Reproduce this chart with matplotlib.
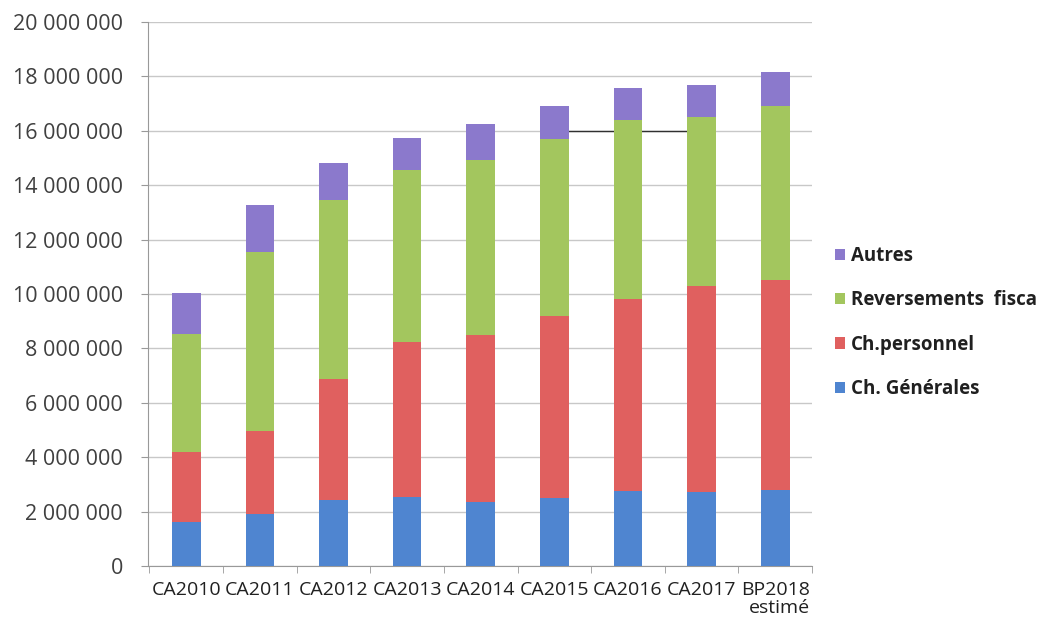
import matplotlib
matplotlib.use("Agg")
import matplotlib.pyplot as plt
import numpy as np

categories = ["CA2010", "CA2011", "CA2012", "CA2013", "CA2014", "CA2015", "CA2016", "CA2017", "BP2018\nestimé"]
ch_generales = [1.60e6, 1.92e6, 2.41e6, 2.55e6, 2.35e6, 2.50e6, 2.75e6, 2.73e6, 2.78e6]
ch_personnel = [2.59e6, 3.05e6, 4.47e6, 5.67e6, 6.13e6, 6.68e6, 7.08e6, 7.58e6, 7.75e6]
reversements = [4.34e6, 6.56e6, 6.56e6, 6.33e6, 6.46e6, 6.53e6, 6.56e6, 6.18e6, 6.39e6]
autres = [1.49e6, 1.74e6, 1.37e6, 1.20e6, 1.30e6, 1.21e6, 1.17e6, 1.18e6, 1.25e6]
yticks = [0, 2e6, 4e6, 6e6, 8e6, 10e6, 12e6, 14e6, 16e6, 18e6, 20e6]

series = [
    ("Ch. Générales", ch_generales, "#4f85d0"),
    ("Ch.personnel", ch_personnel, "#e0605f"),
    ("Reversements  fisca", reversements, "#a3c65e"),
    ("Autres", autres, "#8b79cc"),
]

plt.rcParams['font.family'] = ['Open Sans', 'DejaVu Sans']
fig = plt.figure(figsize=(10.53, 6.25), dpi=100)
ax = fig.add_axes([148/1053, 1 - 566/625, (812-148)/1053, (566-22)/625])

x = np.arange(len(categories))
bottom = np.zeros(len(categories))
handles = []
for name, vals, col in series:
    b = ax.bar(x, vals, 0.39, bottom=bottom, color=col, label=name, zorder=3)
    handles.append(b)
    bottom += np.array(vals)

ax.set_xlim(-0.52, 8.5)
ax.set_ylim(0, 20e6)
ax.set_yticks(yticks)
ax.set_yticklabels([f"{int(v):,}".replace(",", " ") for v in yticks], fontsize=15.5, color="#404040")
ax.xaxis.grid(False)
ax.yaxis.grid(True, color="#c8c8c8", linewidth=1.0, zorder=0)
ax.axhline(16e6, xmin=0.63, xmax=0.815, color="#303030", linewidth=1.0, zorder=2)

ax.set_xticks(x)
ax.set_xticklabels(categories, fontsize=14, color="#202020", linespacing=1.0)
ax.get_xticklabels()[-1].set_multialignment('right')
ax.set_xticks(np.arange(-0.5, 9.0, 1.0), minor=True)
ax.tick_params(axis='x', which='major', length=0, pad=11)
ax.tick_params(axis='x', which='minor', length=5, color="#999999")
ax.tick_params(axis='y', length=5, color="#999999", pad=13)

for s in ["top", "right"]:
    ax.spines[s].set_visible(False)
ax.spines["left"].set_color("#999999")
ax.spines["bottom"].set_color("#999999")

leg = fig.legend(handles[::-1], [s[0] for s in series][::-1], loc="upper left",
                 bbox_to_anchor=(818/1053, 1 - 229/625), frameon=False,
                 prop={'size': 13.5, 'weight': 'bold'}, handlelength=0.55, handleheight=0.55,
                 handletextpad=0.3, labelspacing=1.3)
for t in leg.get_texts():
    t.set_color("#202020")

fig.savefig("out.png", dpi=100)
